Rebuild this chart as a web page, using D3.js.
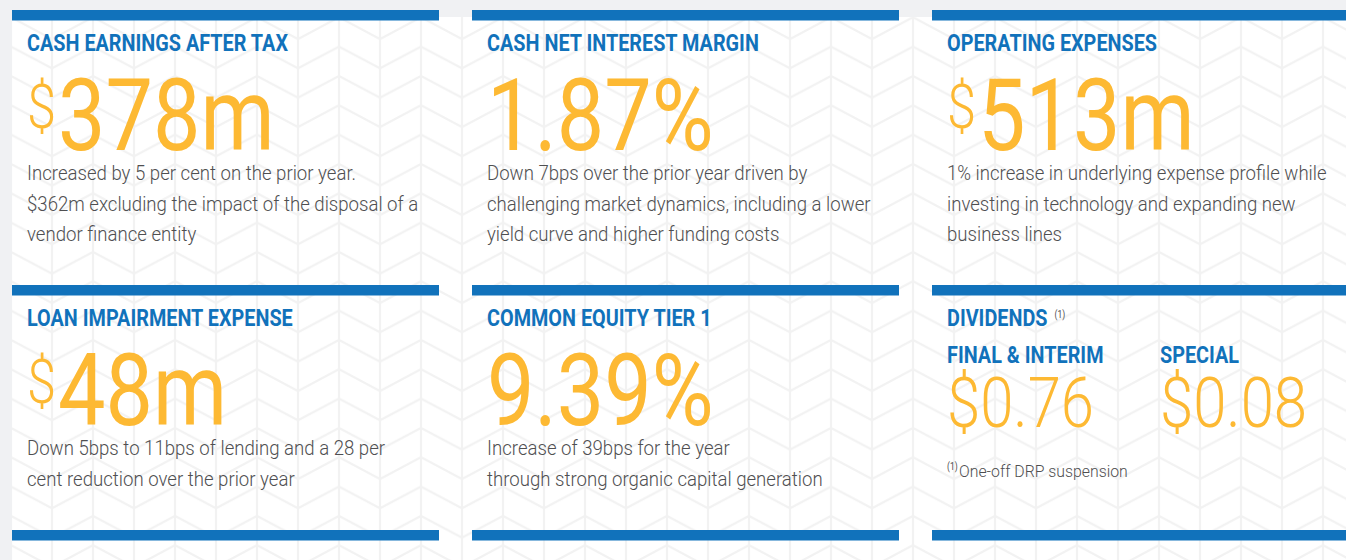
<!DOCTYPE html>
<html>
<head>
<meta charset="utf-8">
<script src="https://cdn.jsdelivr.net/npm/d3@7"></script>
<style>
  body { margin: 0; background: #f0f1f3; overflow: hidden; }
</style>
</head>
<body>
<div id="display"></div>
<script>
var titles = ["CASH EARNINGS AFTER TAX", "CASH NET INTEREST MARGIN", "OPERATING EXPENSES",
              "LOAN IMPAIRMENT EXPENSE", "COMMON EQUITY TIER 1", "DIVIDENDS"];
var prefixes = ["$", "", "$", "$", "", ""];
var figures = ["378m", "1.87%", "513m", "48m", "9.39%", ""];
var notes = [
  ["Increased by 5 per cent on the prior year.", "$362m excluding the impact of the disposal of a", "vendor finance entity"],
  ["Down 7bps over the prior year driven by", "challenging market dynamics, including a lower", "yield curve and higher funding costs"],
  ["1% increase in underlying expense profile while", "investing in technology and expanding new", "business lines"],
  ["Down 5bps to 11bps of lending and a 28 per", "cent reduction over the prior year"],
  ["Increase of 39bps for the year", "through strong organic capital generation"],
  []
];
var dividendLabels = ["FINAL & INTERIM", "SPECIAL"];
var dividendValues = ["$0.76", "$0.08"];
var footnoteMark = "(1)";
var footnote = "One-off DRP suspension";

var width = 1346, height = 560;
var blue = "#1172bb", gold = "#fdb933", grey = "#4f4f51";

var svg = d3.select("#display")
    .append("svg")
    .attr("width", width)
    .attr("height", height);

// columns and rows of the tile grid
var x = d3.scaleLinear().domain([0, 1]).range([12, 472]);
var y = d3.scaleOrdinal().domain([0, 1, 2]).range([10, 285, 530]);
var colW = 427;

// chevron background
var pat = svg.append("defs").append("pattern")
    .attr("id", "chev")
    .attr("patternUnits", "userSpaceOnUse")
    .attr("x", 11).attr("y", 17.3)
    .attr("width", 82).attr("height", 29.33);
pat.append("path")
    .attr("d", "M0,0L41,21.7L82,0M0,29.33L41,51L82,29.33M0,0V29.33M41,0V29.33M82,0V29.33")
    .attr("fill", "none")
    .attr("stroke", "#f2f2f2")
    .attr("stroke-width", 2.2);

svg.append("rect").attr("x", 12).attr("y", 17).attr("width", width).attr("height", height).attr("fill", "#fff");
svg.append("rect").attr("x", 12).attr("y", 17).attr("width", width).attr("height", height).attr("fill", "url(#chev)");

// blue rules
var bars = [];
[0, 1, 2].forEach(r => [0, 1, 2].forEach(c => bars.push({r: r, c: c})));
svg.append("g")
    .attr("fill", blue)
  .selectAll("rect")
  .data(bars)
  .join("rect")
    .attr("x", d => x(d.c))
    .attr("y", d => y(d.r))
    .attr("width", colW)
    .attr("height", 10.5);

var headFont = {family: "Roboto", weight: 700, size: 24};
var bigFont = {family: "Roboto", weight: 400, size: 100};
var dollarFont = {family: "Roboto", weight: 300, size: 62};
var divFont = {family: "Roboto", weight: 300, size: 70};
var bodyFont = {family: "Roboto", weight: 300, size: 20};
var noteFont = {family: "Roboto", weight: 300, size: 17};
var markFont = {family: "Roboto", weight: 400, size: 10};

function measure(str, f) {
  var t = svg.append("text")
      .style("font-family", f.family).style("font-weight", f.weight).style("font-size", f.size + "px")
      .text(str);
  var w = t.node().getComputedTextLength();
  t.remove();
  return w;
}
// condensed look: squeeze each style horizontally
var headSx = 261 / measure("CASH EARNINGS AFTER TAX", headFont);
var bigSx = 443 / (measure("378m", bigFont) + measure("1.87%", bigFont));
var divSx = 147 / measure(dividendValues[0], divFont);
var bodySx = 329 / measure(notes[0][0], bodyFont);

function label(g, str, px, py, f, sx, color) {
  var w = measure(str, f) * sx;
  g.append("text")
      .attr("x", px).attr("y", py)
      .attr("textLength", w)
      .attr("lengthAdjust", "spacingAndGlyphs")
      .style("font-family", f.family)
      .style("font-weight", f.weight)
      .style("font-size", f.size + "px")
      .attr("fill", color)
      .text(str);
  return w;
}

var tiles = titles.map((t, i) => ({i: i, c: i % 3, r: Math.floor(i / 3)}));

tiles.forEach(function(d) {
  var g = svg.append("g");
  var left = x(d.c) + 15, top = y(d.r);

  var hw = label(g, titles[d.i], left, top + 41, headFont, headSx, blue);

  if (figures[d.i]) {
    if (prefixes[d.i]) {
      label(g, prefixes[d.i], left, top + 118, dollarFont, bigSx, gold);
      label(g, figures[d.i], left + 31, top + 140, bigFont, bigSx, gold);
    } else {
      label(g, figures[d.i], left, top + 140, bigFont, bigSx, gold);
    }
  }

  notes[d.i].forEach(function(line, k) {
    label(g, line, left, top + 170 + k * 30.5, bodyFont, bodySx, grey);
  });

  if (d.i === 5) {
    label(g, footnoteMark, left + hw + 7, top + 33, markFont, 0.85, grey);
    var sub = d3.scaleLinear().domain([0, 1]).range([left, left + 213]);
    dividendLabels.forEach(function(s, k) {
      label(g, s, sub(k), top + 78, headFont, headSx, blue);
      label(g, dividendValues[k], sub(k), top + 142, divFont, divSx, gold);
    });
    label(g, footnoteMark, left, top + 185, markFont, 0.85, grey);
    label(g, footnote, left + 12, top + 192, noteFont, bodySx, grey);
  }
});
</script>
</body>
</html>
